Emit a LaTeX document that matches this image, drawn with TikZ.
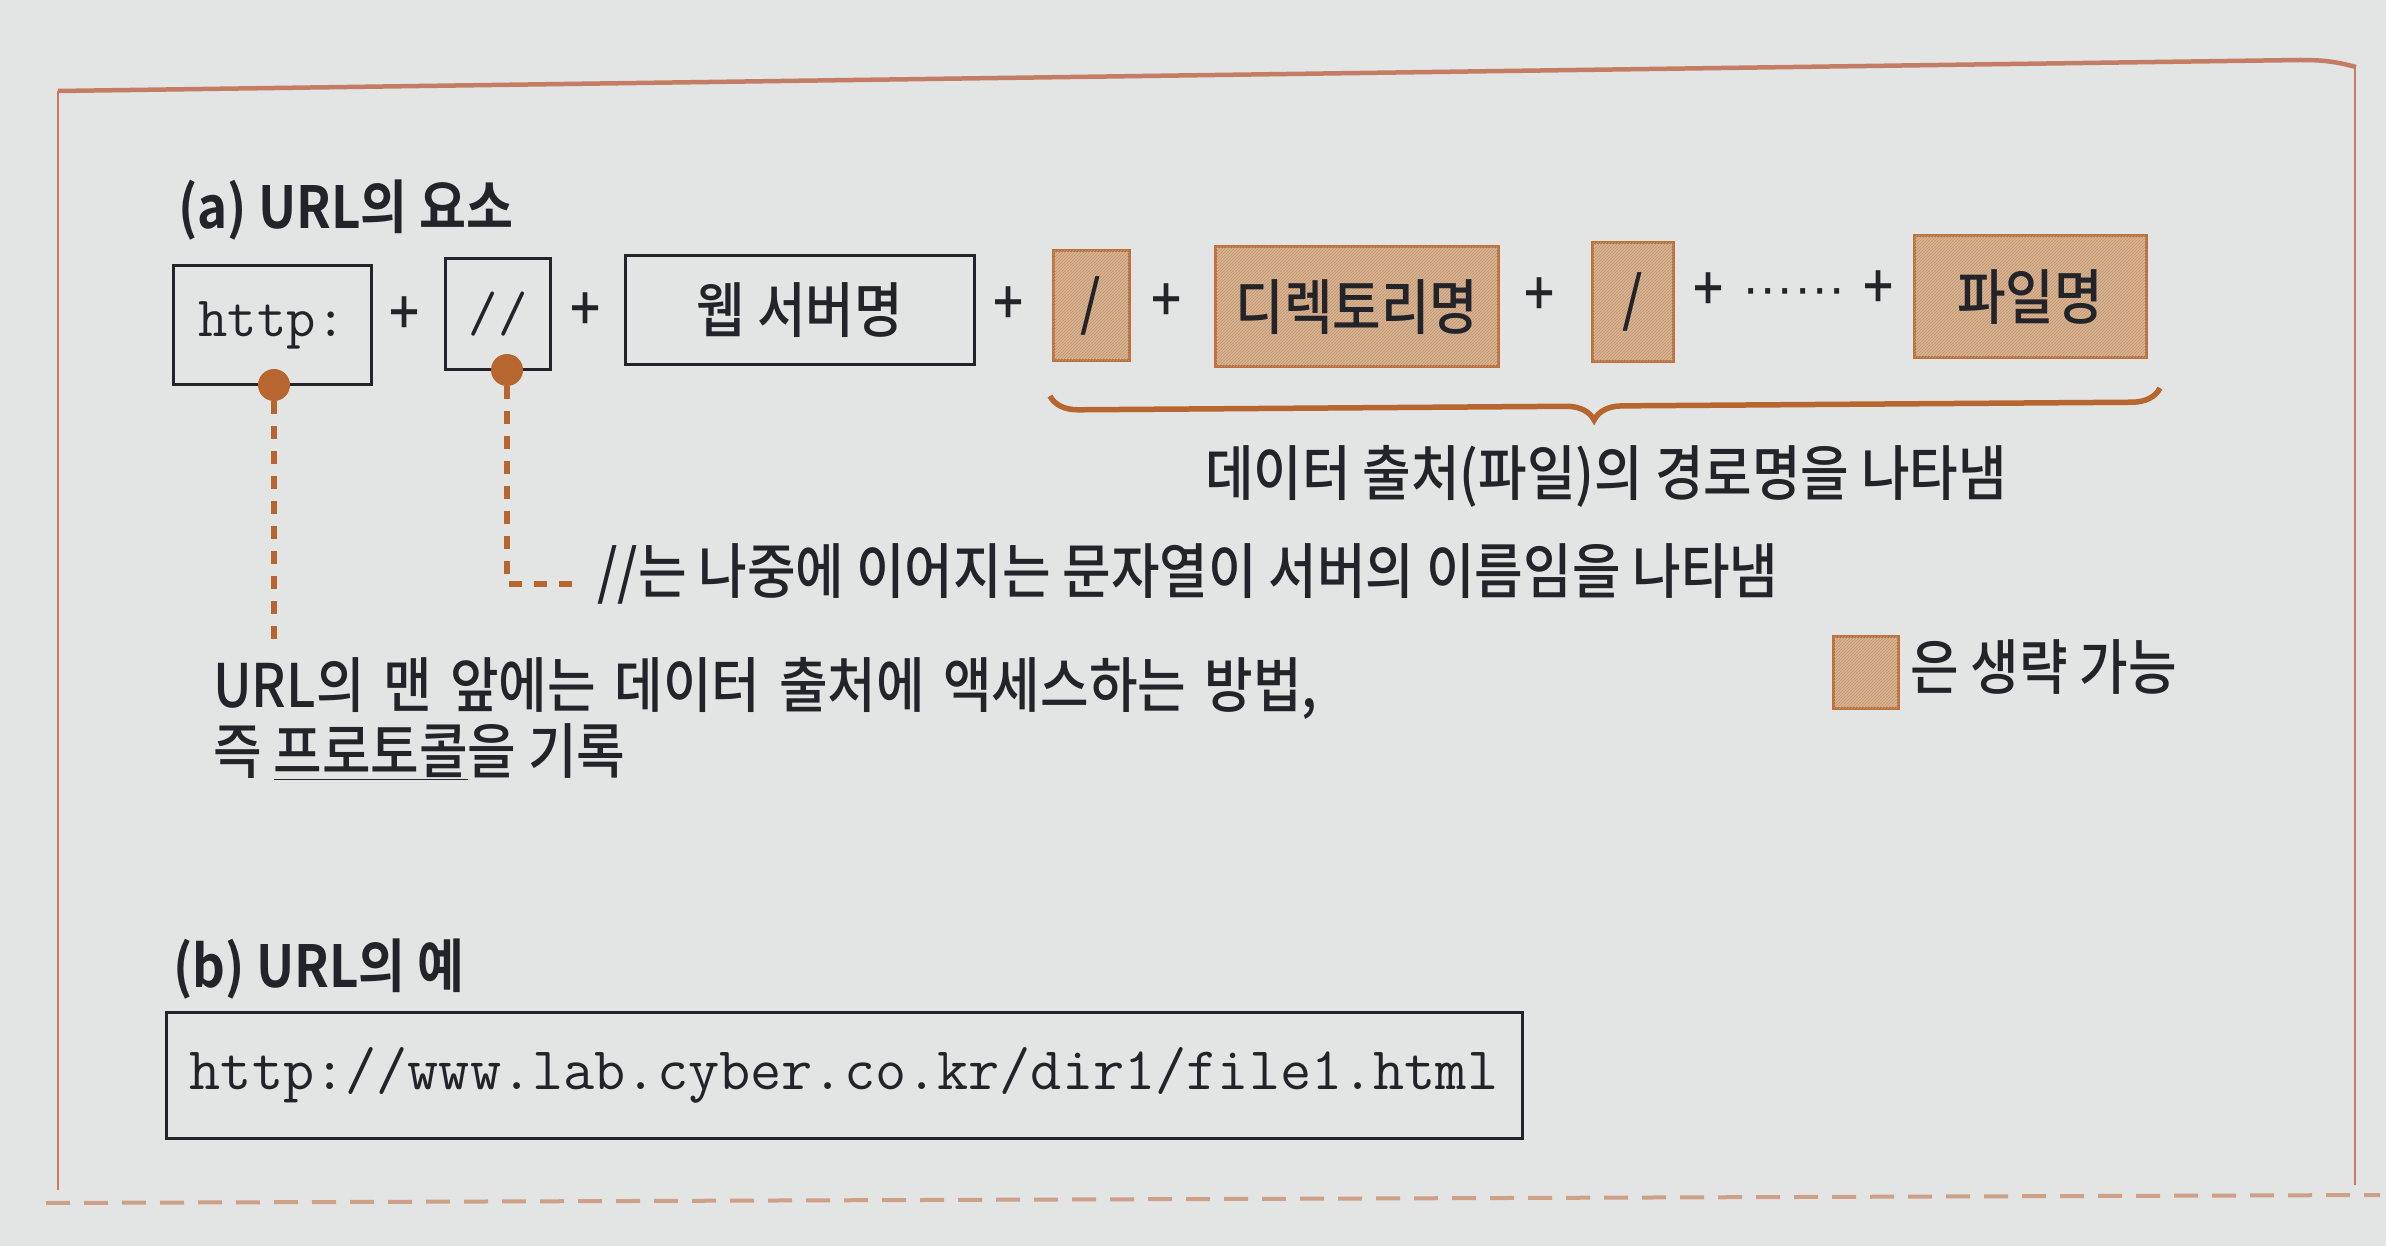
\documentclass[tikz,border=0pt]{standalone}
\usepackage{fontspec}
\newfontfamily\kr[FakeStretch=0.88]{Noto Sans CJK KR Medium}
\newfontfamily\krb[FakeStretch=0.88]{Noto Sans CJK KR Bold}
\newfontfamily\lsans{Liberation Sans}
\newcommand\mywidespace{\spaceskip=0.31em plus 0.05em\relax}
\usetikzlibrary{patterns,decorations.pathreplacing}
\definecolor{paper}{RGB}{227,229,228}
\definecolor{ink}{RGB}{35,35,42}
\definecolor{tanfill}{RGB}{216,180,146}
\definecolor{tanhatch}{RGB}{192,150,112}
\definecolor{tanedge}{RGB}{188,112,62}
\definecolor{rust}{RGB}{184,102,48}
\definecolor{framec}{RGB}{196,124,100}
\definecolor{dashc}{RGB}{205,160,135}
\begin{document}
\begin{tikzpicture}[x=1pt,y=-1pt,
  body/.style={font=\kr\fontsize{60}{68}\selectfont,text=ink,inner sep=0pt},
  titlef/.style={font=\krb\fontsize{58}{66}\selectfont,text=ink,inner sep=0pt},
  monof/.style={font=\ttfamily\fontsize{57}{62}\selectfont,text=ink},
  plus/.style={body},
  plainbox/.style={draw=ink,line width=3pt,inner sep=0pt,text=ink},
  tanbox/.style={draw=tanedge,line width=3pt,fill=tanfill,inner sep=0pt,text=ink,
    postaction={pattern=north east lines,pattern color=tanhatch}},
  dotmark/.style={circle,fill=rust,minimum size=32pt,inner sep=0pt},
  rustdash/.style={rust,line width=5.5pt,dash pattern=on 13pt off 12pt}]
\fill[paper] (0,0) rectangle (2386,1246);
\useasboundingbox (0,0) rectangle (2386,1246);
% frame
\draw[framec,line width=2pt] (58,1190) -- (58,91);
\draw[framec,line width=2pt] (2355,66) -- (2355,1185);
\draw[framec,line width=4.5pt] (58,91) -- (2300,60) to[out=0,in=165] (2356,67);
\draw[dashc,line width=4pt,dash pattern=on 24pt off 14pt] (46,1203) -- (2380,1195);
% (a)
\node[titlef,anchor=west] (ta) at (178,210) {(a) URL의 요소};
\node[plainbox,monof,minimum width=198pt,minimum height=119pt] (http) at (272,325) {http:};
\node[plus] (p1) at (405,316) {+};
\node[plainbox,monof,minimum width=105pt,minimum height=111pt] (dslash) at (498,314) {//};
\node[plus] (p2) at (586,312) {+};
\node[plainbox,body,minimum width=349pt,minimum height=109pt] (web) at (800,310) {웹 서버명};
\node[plus] (p3) at (1009,306) {+};
\node[tanbox,body,minimum width=76pt,minimum height=110pt] (s1) at (1091,306) {/};
\node[plus] (p4) at (1167,303) {+};
\node[tanbox,body,minimum width=283pt,minimum height=120pt] (dir) at (1357,307) {디렉토리명};
\node[plus] (p5) at (1540,297) {+};
\node[tanbox,body,minimum width=81pt,minimum height=119pt] (s2) at (1633,302) {/};
\node[plus] (p6) at (1709,292) {+};
\node[text=ink,font=\lsans\fontsize{52}{60}\selectfont,inner sep=0pt] (dots) at (1794,297) {······};
\node[plus] (p7) at (1879,290) {+};
\node[tanbox,body,minimum width=232pt,minimum height=122pt] (file) at (2030,297) {파일명};
% brace
\coordinate (bl) at (1050,396);
\coordinate (br) at (2160,388);
\draw[rust,line width=5.5pt,decorate,decoration={brace,mirror,amplitude=28pt,aspect=0.49}] (bl) -- (br);
\node[body,anchor=west] (pathtxt) at (1205,476) {데이터 출처(파일)의 경로명을 나타냄};
% dots and dashed leaders
\node[dotmark] (d1) at (274,385) {};
\node[dotmark] (d2) at (507,370) {};
\coordinate (e1) at (274,639);
\coordinate (e2) at (507,584);
\coordinate (e3) at (578,584);
\draw[rustdash] (d1.south) -- (e1);
\draw[rustdash] (d2.south) -- (e2) -- (e3);
\node[body,anchor=west] (slashtxt) at (597,574) {//는 나중에 이어지는 문자열이 서버의 이름임을 나타냄};
\node[body,anchor=west] (proto1) at (213,688) {\mywidespace URL의 맨 앞에는 데이터 출처에 액세스하는 방법,};
\node[body,anchor=west] (proto2) at (213,752) {즉 \underline{프로토콜}을 기록};
% legend
\node[tanbox,minimum width=65pt,minimum height=72pt] (leg) at (1866,672) {};
\node[body,anchor=west] (legtxt) at (1910,667) {은 생략 가능};
% (b)
\node[titlef,anchor=west] (tb) at (173,969) {(b) URL의 예};
\node[plainbox,font=\ttfamily\fontsize{60.5}{66}\selectfont,minimum width=1356pt,minimum height=126pt] (url) at (844,1075) {http://www.lab.cyber.co.kr/dir1/file1.html};
\end{tikzpicture}
\end{document}
